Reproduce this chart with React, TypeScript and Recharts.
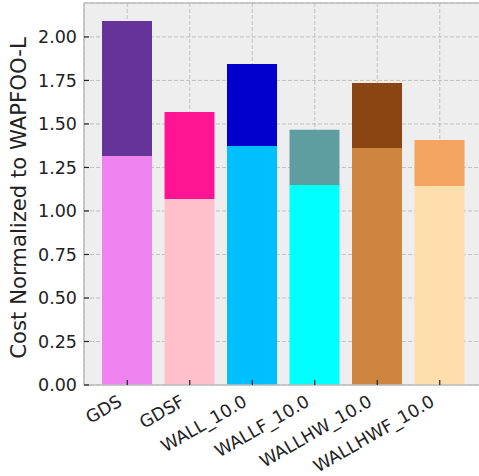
import React from 'react';
import { BarChart, Bar, XAxis, YAxis, CartesianGrid, Cell, ReferenceLine } from 'recharts';

const categories = ['GDS', 'GDSF', 'WALL_10.0', 'WALLF_10.0', 'WALLHW_10.0', 'WALLHWF_10.0'];
const baseCost = [1.316, 1.069, 1.374, 1.149, 1.362, 1.144];
const totalCost = [2.092, 1.569, 1.845, 1.466, 1.736, 1.408];
const baseColors = ['#EE82EE', '#FFC0CB', '#00BFFF', '#00FFFF', '#CD853F', '#FFDEAD'];
const topColors = ['#663399', '#FF1493', '#0000CD', '#5F9EA0', '#8B4513', '#F4A460'];
const yTicks = [0, 0.25, 0.5, 0.75, 1.0, 1.25, 1.5, 1.75, 2.0];
const yMax = 2.195;
const yLabel = 'Cost Normalized to WAPFOO-L';

const data = categories.map((name, i) => ({
  name,
  base: baseCost[i],
  extra: totalCost[i] - baseCost[i],
}));

const FONT = 'DejaVu Sans';

const YTick = (props: any) => {
  const { x, y, payload } = props;
  return (
    <g>
      <line x1={x + 7} x2={x + 12} y1={y} y2={y} stroke="#222" strokeWidth={1.2} />
      <text x={x} y={y} dy="0.36em" textAnchor="end" fontFamily={FONT} fontSize={17.5} fill="#222">
        {Number(payload.value).toFixed(2)}
      </text>
    </g>
  );
};

const XTick = (props: any) => {
  const { x, y, payload } = props;
  const ax = x - 4;
  const ay = y + 20;
  return (
    <g>
      <line x1={x} x2={x} y1={y} y2={y - 5} stroke="#222" strokeWidth={1.2} />
      <text x={ax} y={ay} textAnchor="end" fontFamily={FONT} fontSize={17.5} fill="#222" transform={`rotate(-30, ${ax}, ${ay})`}>
        {payload.value}
      </text>
    </g>
  );
};

const renderYLabel = () => (
  <text x={26} y={198} textAnchor="middle" fontFamily={FONT} fontSize={21.2} fill="#222" transform="rotate(-90, 26, 198)">
    {yLabel}
  </text>
);

export default function App() {
  return (
    <div style={{ position: 'absolute', left: 0, top: 0, width: 479, height: 476, overflow: 'hidden', background: '#fff' }}>
      <BarChart width={490} height={476} data={data} margin={{ top: 3, right: 7, left: 0, bottom: 0 }} barSize={50}>
        <CartesianGrid fill="#eeeeee" horizontal={false} vertical={false} />
        <XAxis
          dataKey="name"
          type="category"
          height={91}
          padding={{ left: 12, right: 12 }}
          axisLine={{ stroke: '#bcbcbc', strokeWidth: 1.5 }}
          tickLine={false}
          tickSize={0}
          tickMargin={0}
          interval={0}
          tick={<XTick />}
        />
        <YAxis
          type="number"
          domain={[0, yMax]}
          ticks={yTicks}
          width={84}
          axisLine={{ stroke: '#bcbcbc', strokeWidth: 1.5 }}
          tickLine={false}
          tickSize={0}
          tickMargin={7}
          interval={0}
          tick={<YTick />}
          label={{ value: yLabel, content: renderYLabel }}
          allowDataOverflow
        />
        <Bar dataKey="base" stackId="a" isAnimationActive={false}>
          {data.map((d, i) => (
            <Cell key={`b-${i}`} fill={baseColors[i]} />
          ))}
        </Bar>
        <Bar dataKey="extra" stackId="a" isAnimationActive={false}>
          {data.map((d, i) => (
            <Cell key={`t-${i}`} fill={topColors[i]} />
          ))}
        </Bar>
        <CartesianGrid stroke="#b2b2b2" strokeOpacity={0.75} strokeDasharray="4 2" fill="none" />
        <ReferenceLine y={yMax} stroke="#bcbcbc" strokeWidth={1.5} />
      </BarChart>
    </div>
  );
}
